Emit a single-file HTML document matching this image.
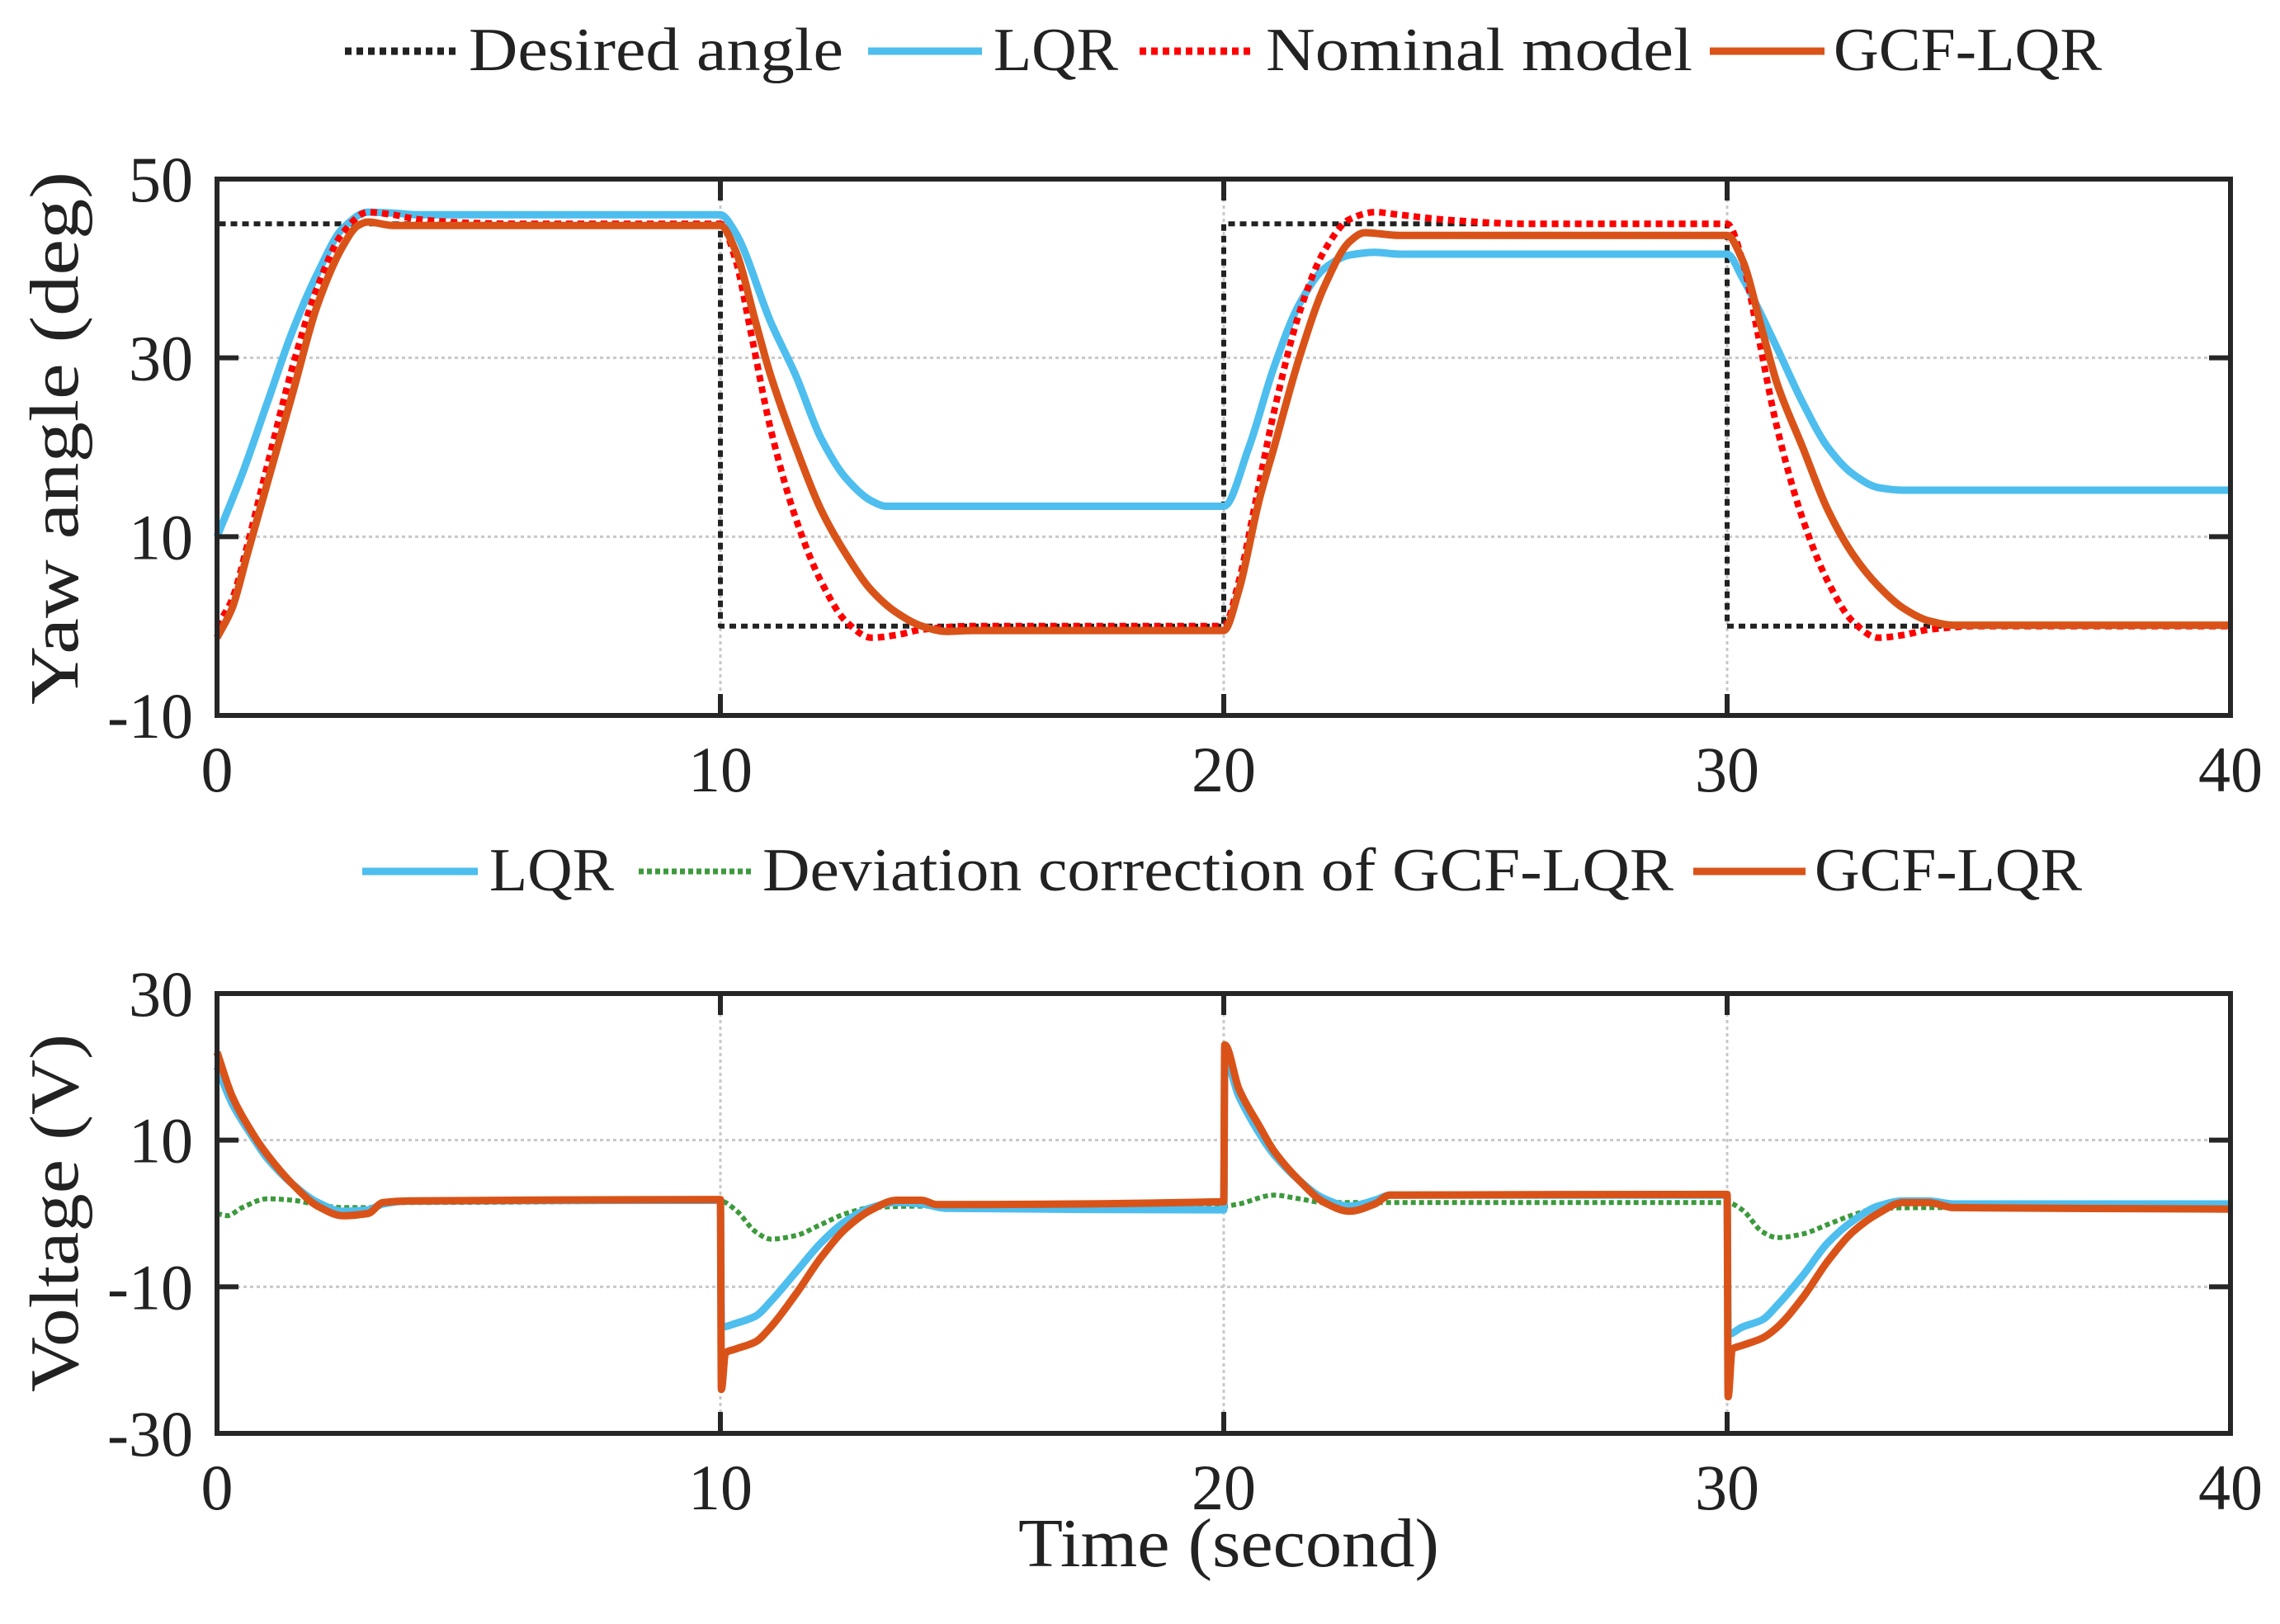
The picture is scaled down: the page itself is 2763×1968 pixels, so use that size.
<!DOCTYPE html>
<html><head><meta charset="utf-8"><style>
html,body{margin:0;padding:0;background:#fff}
svg{display:block}
text{font-family:"Liberation Serif",serif;fill:#222}
</style></head><body>
<svg id="chart" width="2763" height="1968" viewBox="0 0 2763 1968" xmlns="http://www.w3.org/2000/svg">
<g id="legend1">
<line x1="418" y1="62" x2="554" y2="62" stroke="#222" stroke-width="9" stroke-dasharray="8,6"/>
<text x="568" y="85" font-size="74" textLength="454" lengthAdjust="spacingAndGlyphs">Desired angle</text>
<line x1="1052" y1="62" x2="1190" y2="62" stroke="#4DBEEE" stroke-width="9"/>
<text x="1204" y="85" font-size="74" textLength="151" lengthAdjust="spacingAndGlyphs">LQR</text>
<line x1="1381" y1="62" x2="1520" y2="62" stroke="#FF0000" stroke-width="9" stroke-dasharray="8,6"/>
<text x="1534" y="85" font-size="74" textLength="517" lengthAdjust="spacingAndGlyphs">Nominal model</text>
<line x1="2072" y1="62" x2="2211" y2="62" stroke="#D95319" stroke-width="9"/>
<text x="2222" y="85" font-size="74" textLength="325" lengthAdjust="spacingAndGlyphs">GCF-LQR</text>
</g>
<g id="legend2">
<line x1="439" y1="1056" x2="579" y2="1056" stroke="#4DBEEE" stroke-width="9"/>
<text x="593" y="1079" font-size="74" textLength="151" lengthAdjust="spacingAndGlyphs">LQR</text>
<line x1="774" y1="1056" x2="912" y2="1056" stroke="#3C9A3C" stroke-width="7" stroke-dasharray="6,4"/>
<text x="924" y="1079" font-size="74" textLength="1104" lengthAdjust="spacingAndGlyphs">Deviation correction of GCF-LQR</text>
<line x1="2052" y1="1056" x2="2188" y2="1056" stroke="#D95319" stroke-width="9"/>
<text x="2199" y="1079" font-size="74" textLength="324" lengthAdjust="spacingAndGlyphs">GCF-LQR</text>
</g>
<text x="0" y="0" font-size="84" text-anchor="middle" textLength="646" lengthAdjust="spacingAndGlyphs" transform="translate(94,531) rotate(-90)">Yaw angle (deg)</text>
<text x="0" y="0" font-size="84" text-anchor="middle" textLength="434" lengthAdjust="spacingAndGlyphs" transform="translate(94,1470) rotate(-90)">Voltage (V)</text>
<text x="1489" y="1898" font-size="84" text-anchor="middle" textLength="510" lengthAdjust="spacingAndGlyphs">Time (second)</text>
</svg>
<script>
// ---- top chart data ----
const xTicks = [0, 10, 20, 30, 40];
const yTicksTop = [-10, 10, 30, 50];
const yTicksBot = [-30, -10, 10, 30];
const desiredT = [0, 0, 10, 10, 20, 20, 30, 30, 40];
const desiredV = [0, 45, 45, 0, 0, 45, 45, 0, 0];
const lqrT = [0,0.5,1,1.5,2,2.5,3,3.5,4,10,10.3,11,11.5,12,12.5,13,13.3,14,20,20.5,21,21.5,22,22.5,23,23.5,30,30.3,31,31.5,32,32.5,33,33.5,40];
const lqrV = [10,17,25,33,39.5,44.5,46.3,46.2,46,46,44,34,28,21,16.5,14,13.4,13.4,13.4,20,29,36,40,41.5,41.8,41.6,41.6,39,31,25,20,17,15.5,15.2,15.2];
const nomT = [0,0.3,0.6,1,1.5,2,2.5,3,3.5,4,5,6,10,10.3,10.6,11,11.5,12,12.5,13,13.5,14,15,20,20.3,20.6,21,21.5,22,22.5,23,23.5,24.5,26,30,30.3,30.6,31,31.5,32,32.5,33,33.5,34,35,40];
const nomV = [0,3,9,18,29,38,44,46.3,46,45.5,45.1,45,45,41,33,22,12,5,0.5,-1.3,-1,-0.4,0,0,5,13,24,35,42,45.5,46.3,46,45.4,45,45,41,33,22,12,5,0.5,-1.3,-1,-0.4,0,0];
const gcfT = [0,0.3,0.6,1,1.5,2,2.5,2.8,3,3.5,10,10.3,10.7,11,11.5,12,12.5,13,13.5,14,14.5,15,20,20.3,20.7,21,21.5,22,22.5,22.8,23.5,30,30.3,30.7,31,31.5,32,32.5,33,33.5,34,34.5,40];
const gcfV = [-1.3,2,8,16,26,36,42.5,44.8,45.2,44.8,44.8,42,34,28,20,13,8,4,1.5,0,-0.6,-0.5,-0.5,4,14,20,30,38,43,44,43.7,43.7,41,33,27,20,13,8,4.5,2,0.6,0.1,0.1];
// ---- bottom chart data ----
const vLqrT = [0,0.3,0.7,1,1.5,2,2.5,3,3.3,3.8,10,10.02,10.3,10.7,11,11.5,12,12.5,13,13.5,14,14.5,20,20.02,20.3,20.7,21,21.5,22,22.5,23,23.3,30,30.02,30.3,30.7,31,31.5,32,32.5,33,33.5,34,34.5,40];
const vLqrV = [20,15,10.5,7.5,4,1.5,0.3,0.5,1.3,1.7,1.8,-15.5,-15,-14,-12,-8,-4,-1,0.8,1.5,1.3,0.7,0.5,21,16,11,8,4.5,2,1,1.8,2.5,2.5,-16.5,-15.5,-14.5,-12.5,-8.5,-4,-1,1,1.7,1.7,1.3,1.3];
const vGcfT = [0,0.3,0.7,1,1.5,2,2.5,3,3.3,3.8,10,10.02,10.1,10.3,10.7,11,11.5,12,12.5,13,13.5,14,14.3,20,20.02,20.3,20.7,21,21.5,22,22.5,23,23.3,30,30.02,30.1,30.3,30.7,31,31.5,32,32.5,33,33.5,34,34.5,40];
const vGcfV = [22,16,11,8,4,1,-0.3,0,1.5,1.7,1.9,-24,-19,-18.5,-17.5,-15.5,-11,-6,-2,0.5,1.8,1.8,1.2,1.6,23,17,12,8.5,4.5,1.5,0.3,1.3,2.5,2.6,-25,-18.5,-18,-17,-15.5,-11.5,-6.5,-2.5,0,1.5,1.5,0.8,0.6];
const devT = [0,0.2,0.5,1,1.5,2,2.5,3,3.5,4,10,10.3,10.7,11,11.5,12,12.5,13,14,20,20.3,21,21.5,22,23,30,30.3,30.7,31,31.5,32,32.5,33,34,40];
const devV = [0,-0.3,0.8,2,1.8,1.2,0.8,0.8,1.5,1.5,1.7,0.5,-2.5,-3.5,-3,-1.5,0,0.8,1,1,1.3,2.5,2,1.5,1.5,1.5,0.5,-2.5,-3.3,-2.8,-1.5,-0.2,0.7,0.8,0.6];

const NS = 'http://www.w3.org/2000/svg';
const svgEl = document.getElementById('chart');
const X0 = 263, X1 = 2703;
function xs(t){ return X0 + (t - 0) / 40 * (X1 - X0); }
function mk(tag, attrs){ const e = document.createElementNS(NS, tag); for (const k in attrs) e.setAttribute(k, attrs[k]); return e; }

function panel(name, py0, py1, ymin, ymax, yTicks, gridY){
  const ys = v => py1 - (v - ymin) / (ymax - ymin) * (py1 - py0);
  const g = mk('g', {});
  
  
  svgEl.appendChild(g);
  [10,20,30].forEach(t => {
    const l = mk('line', {x1: xs(t), x2: xs(t), y1: py0, y2: py1, stroke: '#c8c8c8', 'stroke-width': 3, 'stroke-dasharray': '4,4'});
    
    
    g.appendChild(l);
  });
  gridY.forEach(v => {
    const l = mk('line', {x1: X0, x2: X1, y1: ys(v), y2: ys(v), stroke: '#c8c8c8', 'stroke-width': 3, 'stroke-dasharray': '4,4'});
    
    
    g.appendChild(l);
  });
  xTicks.forEach(t => {
    const tx = mk('text', {x: xs(t), y: py1 + 92, 'font-size': 78, 'text-anchor': 'middle'});
    tx.textContent = t;
    
    
    svgEl.appendChild(tx);
    if (t > 0 && t < 40) {
      [[py1, py1 - 26], [py0, py0 + 26]].forEach(p => {
        const k = mk('line', {x1: xs(t), x2: xs(t), y1: p[0], y2: p[1], stroke: '#262626', 'stroke-width': 6});
        
        
        svgEl.appendChild(k);
      });
    }
  });
  yTicks.forEach(v => {
    const tx = mk('text', {x: 234, y: ys(v) + 27, 'font-size': 78, 'text-anchor': 'end'});
    tx.textContent = v;
    
    
    svgEl.appendChild(tx);
    if (v > ymin && v < ymax) {
      [[X0, X0 + 26], [X1, X1 - 26]].forEach(p => {
        const k = mk('line', {x1: p[0], x2: p[1], y1: ys(v), y2: ys(v), stroke: '#262626', 'stroke-width': 6});
        
        
        svgEl.appendChild(k);
      });
    }
  });
  return {g: g, ys: ys, py0: py0, py1: py1};
}

// monotone cubic (Fritsch-Carlson) path through points
function smoothPath(P){
  const n = P.length;
  if (n < 3) return 'M' + P.map(p => p[0].toFixed(1) + ',' + p[1].toFixed(1)).join('L');
  const d = [], m = [];
  for (let i = 0; i < n - 1; i++) {
    const dx = P[i+1][0] - P[i][0];
    d.push(dx === 0 ? 0 : (P[i+1][1] - P[i][1]) / dx);
  }
  m[0] = d[0]; m[n-1] = d[n-2];
  for (let i = 1; i < n - 1; i++) {
    if (d[i-1] * d[i] <= 0) m[i] = 0;
    else m[i] = 2 / (1 / d[i-1] + 1 / d[i]);
  }
  let s = 'M' + P[0][0].toFixed(1) + ',' + P[0][1].toFixed(1);
  for (let i = 0; i < n - 1; i++) {
    const h = (P[i+1][0] - P[i][0]) / 3;
    s += 'C' + (P[i][0] + h).toFixed(1) + ',' + (P[i][1] + m[i] * h).toFixed(1) + ' ' +
         (P[i+1][0] - h).toFixed(1) + ',' + (P[i+1][1] - m[i+1] * h).toFixed(1) + ' ' +
         P[i+1][0].toFixed(1) + ',' + P[i+1][1].toFixed(1);
  }
  return s;
}

function series(p, T, V, color, width, dash, nm, smooth){
  const P = T.map((t, i) => [xs(t), p.ys(V[i])]);
  let el;
  if (smooth) {
    el = mk('path', {d: smoothPath(P), fill: 'none', stroke: color, 'stroke-width': width, 'stroke-linejoin': 'round'});
  } else {
    el = mk('polyline', {points: P.map(q => q[0].toFixed(1) + ',' + q[1].toFixed(1)).join(' '), fill: 'none', stroke: color, 'stroke-width': width, 'stroke-linejoin': 'round'});
  }
  if (dash) el.setAttribute('stroke-dasharray', dash);
  
  
  p.g.appendChild(el);
}

function frame(p, name){
  const r = mk('rect', {x: X0, y: p.py0, width: X1 - X0, height: p.py1 - p.py0, fill: 'none', stroke: '#262626', 'stroke-width': 6});
  
  
  svgEl.appendChild(r);
}

const yawPanel = panel('yaw', 217, 867, -10, 50, yTicksTop, [10, 30]);
series(yawPanel, desiredT, desiredV, '#222', 6, '8,6', 'desired-angle-line', false);
series(yawPanel, lqrT, lqrV, '#4DBEEE', 9, null, 'lqr-yaw-line', true);
series(yawPanel, nomT, nomV, '#FF0000', 8, '8,6', 'nominal-model-line', true);
series(yawPanel, gcfT, gcfV, '#D95319', 9, null, 'gcf-lqr-yaw-line', true);
frame(yawPanel, 'yaw');

const voltPanel = panel('voltage', 1204, 1737, -30, 30, yTicksBot, [-10, 10]);
series(voltPanel, devT, devV, '#3C9A3C', 6, '6,4', 'deviation-correction-line', true);
series(voltPanel, vLqrT, vLqrV, '#4DBEEE', 9, null, 'lqr-voltage-line', true);
series(voltPanel, vGcfT, vGcfV, '#D95319', 9, null, 'gcf-lqr-voltage-line', true);
frame(voltPanel, 'voltage');
</script>
</body></html>
